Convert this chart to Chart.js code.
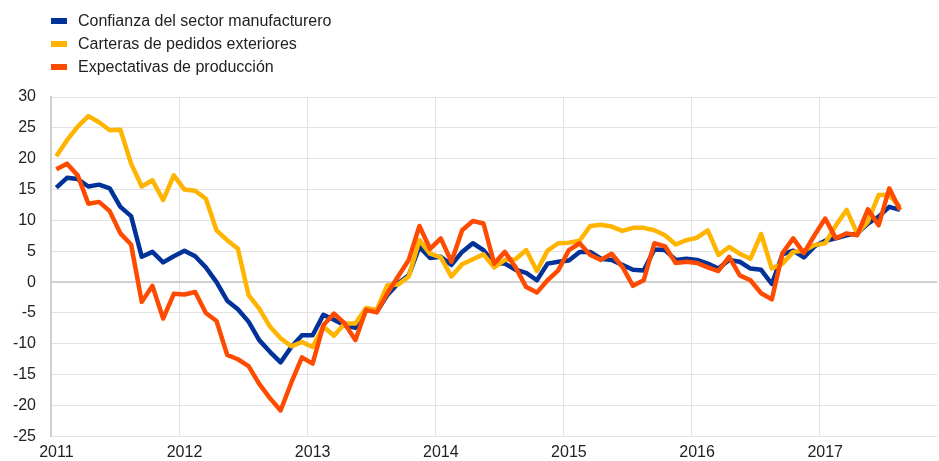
<!DOCTYPE html>
<html>
<head>
<meta charset="utf-8">
<script src="https://cdn.jsdelivr.net/npm/chart.js@4.4.1/dist/chart.umd.min.js"></script>
<style>
    html, body { margin: 0; padding: 0; background: #fff; }
    #wrap { position: relative; width: 939px; height: 461px; }
    #legend { position: absolute; left: 51px; top: 9px; font: 16px Arial, "Liberation Sans", sans-serif; color: #222; }
    #legend div { height: 23px; line-height: 23px; white-space: nowrap; }
    #legend span { display: inline-block; width: 16px; height: 6px; margin-right: 11px; vertical-align: middle; position: relative; top: -1px; }
</style>
</head>
<body>
<div id="wrap">
    <canvas id="chart" width="939" height="461"></canvas>
    <div id="legend"></div>
</div>
<script>
// monthly, Jan 2011 onwards
const years = ['2011', '2012', '2013', '2014', '2015', '2016', '2017'];
const seriesNames = ['Confianza del sector manufacturero', 'Carteras de pedidos exteriores', 'Expectativas de producción'];

const confianza = [
    15.3, 16.9, 16.7, 15.5, 15.8, 15.2, 12.2, 10.7, 4.1, 4.9, 3.2, 4.2,
    5.1, 4.2, 2.4, 0.0, -3.0, -4.4, -6.4, -9.4, -11.3, -13.0, -10.5, -8.6,
    -8.6, -5.3, -6.1, -7.0, -7.4, -4.5, -4.8, -2.1, -0.2, 1.1, 5.7, 3.9,
    4.1, 2.8, 4.9, 6.3, 5.2, 3.0, 3.0, 2.0, 1.5, 0.3, 3.0, 3.3,
    3.5, 4.9, 4.9, 3.8, 3.6, 2.8, 2.0, 1.9, 5.3, 5.2, 3.6, 3.8,
    3.6, 3.0, 2.2, 3.6, 3.3, 2.2, 2.0, -0.3, 4.5, 5.1, 4.0, 5.8,
    6.7, 7.1, 7.6, 7.9, 9.5, 10.6, 12.2, 11.7
];
const pedidos = [
    20.4, 23.0, 25.2, 26.9, 25.9, 24.6, 24.7, 19.2, 15.5, 16.5, 13.3, 17.3,
    15.0, 14.8, 13.5, 8.4, 6.8, 5.4, -2.1, -4.3, -7.2, -9.1, -10.4, -9.7,
    -10.5, -7.2, -8.7, -6.7, -6.7, -4.2, -4.5, -0.5, -0.4, 0.9, 6.8, 4.6,
    4.0, 0.9, 2.9, 3.7, 4.5, 2.4, 3.6, 3.7, 5.2, 1.8, 5.1, 6.3,
    6.4, 6.7, 9.1, 9.3, 9.0, 8.3, 8.8, 8.8, 8.4, 7.6, 6.1, 6.8,
    7.2, 8.4, 4.4, 5.7, 4.6, 3.8, 7.8, 2.2, 3.0, 4.9, 5.1, 6.0,
    6.3, 9.2, 11.7, 7.9, 9.8, 14.1, 14.1, 12.2
];
const expectativas = [
    18.3, 19.2, 17.3, 12.7, 13.0, 11.5, 7.9, 6.1, -3.2, -0.6, -5.9, -1.9,
    -2.0, -1.6, -5.0, -6.3, -11.8, -12.5, -13.6, -16.5, -18.8, -20.8, -16.3, -12.2,
    -13.2, -7.0, -5.1, -6.7, -9.4, -4.5, -4.9, -1.8, 0.9, 3.6, 9.1, 5.4,
    7.1, 3.3, 8.4, 9.9, 9.5, 3.0, 4.9, 2.4, -0.8, -1.7, 0.3, 1.9,
    5.2, 6.3, 4.4, 3.6, 4.6, 2.5, -0.6, 0.3, 6.3, 5.8, 3.1, 3.3,
    3.1, 2.4, 1.8, 4.1, 1.1, 0.3, -1.8, -2.8, 4.7, 7.1, 4.7, 7.6,
    10.3, 7.1, 7.9, 7.6, 11.8, 9.2, 15.2, 11.7
];

const colors = ['#003299', '#FFB400', '#FF4B00'];
const font = { family: 'Arial, "Liberation Sans", sans-serif', size: 16 };

// 83 month slots on the axis (Jan 2011 .. Nov 2017)
const months = [];
years.forEach(y => {
    for (let m = 1; m <= 12; m++) months.push(y + '-' + m);
});
months.length = 83;

const legendEl = document.getElementById('legend');
seriesNames.forEach((name, i) => {
    const row = document.createElement('div');
    row.innerHTML = '<span style="background:' + colors[i] + '"></span>' + name;
    legendEl.appendChild(row);
});

const mkLine = (label, data, color, order) => ({
    label, data,
    borderColor: color,
    backgroundColor: color,
    borderWidth: 4.5,
    pointRadius: 0,
    tension: 0,
    borderJoinStyle: 'round',
    order
});

new Chart(document.getElementById('chart'), {
    type: 'line',
    data: {
        labels: months,
        datasets: [
            mkLine(seriesNames[0], confianza, colors[0], 2),
            mkLine(seriesNames[1], pedidos, colors[1], 1),
            mkLine(seriesNames[2], expectativas, colors[2], 0)
        ]
    },
    options: {
        responsive: false,
        animation: false,
        layout: { padding: { top: 97, right: 0, left: 0, bottom: 0 } },
        plugins: { legend: { display: false }, tooltip: { enabled: false } },
        scales: {
            x: {
                type: 'category',
                offset: true,
                afterFit: s => { s.height = 24; },
                grid: {
                    offset: true,
                    drawTicks: false,
                    color: ctx => (ctx.index % 12 === 0 && ctx.index > 0) ? '#e3e3e3' : 'transparent',
                    lineWidth: 1
                },
                border: { display: false },
                ticks: {
                    autoSkip: false,
                    maxRotation: 0,
                    padding: 7,
                    color: '#222',
                    font,
                    callback: function (val, i) {
                        return i % 12 === 0 ? years[i / 12] : '';
                    }
                }
            },
            y: {
                min: -25,
                max: 30,
                afterFit: s => { s.width = 51; },
                grid: {
                    drawTicks: false,
                    color: ctx => ctx.tick.value === 0 ? '#d0d0d0' : '#e3e3e3',
                    lineWidth: ctx => ctx.tick.value === 0 ? 2 : 1
                },
                border: { display: true, color: '#d0d0d0', width: 2 },
                ticks: { stepSize: 5, padding: 15, color: '#222', font }
            }
        }
    }
});
</script>
</body>
</html>
